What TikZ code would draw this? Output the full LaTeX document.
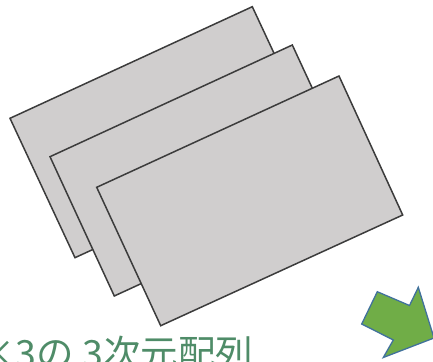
\documentclass[tikz,border=0pt]{standalone}
\usepackage{fontspec}
\newfontfamily\cjk{Noto Sans CJK JP}
\definecolor{sheetfill}{HTML}{D0CECE}
\definecolor{sheetline}{HTML}{3C3C3C}
\definecolor{arrowfill}{HTML}{70AD47}
\definecolor{arrowline}{HTML}{41719C}
\definecolor{labelgreen}{HTML}{4F8C68}
\tikzset{
  sheet/.style={fill=sheetfill, draw=sheetline, line width=1.5pt, line join=miter},
  bigarrow/.style={fill=arrowfill, draw=arrowline, line width=1.3pt, line join=miter},
}
\begin{document}
\begin{tikzpicture}[x=1pt,y=-1pt]
\useasboundingbox (0,0) rectangle (433,361);
\clip (0,0) rectangle (433,361);
% back sheet
\draw[sheet] (10,118.3) -- (252.3,6.7) -- (317.3,146.1) -- (75,257.7) -- cycle;
% middle sheet
\draw[sheet] (50,156.7) -- (292.3,45) -- (356.8,184.3) -- (114.3,296) -- cycle;
% front sheet
\draw[sheet] (96.7,187.3) -- (339,76) -- (402.7,215) -- (160.7,325.7) -- cycle;
% arrow
\draw[bigarrow] (377.3,291.7) -- (409.5,305.5) -- (418.3,287.3) -- (434,338)
  -- (383.3,357.5) -- (393.3,340) -- (361.7,324) -- cycle;
% label
\node[anchor=base west, inner sep=0pt, text=labelgreen, font=\cjk\fontsize{37.5}{40}\selectfont] (lbl) at (-22,367) {×3の 3次元配列};
\end{tikzpicture}
\end{document}
